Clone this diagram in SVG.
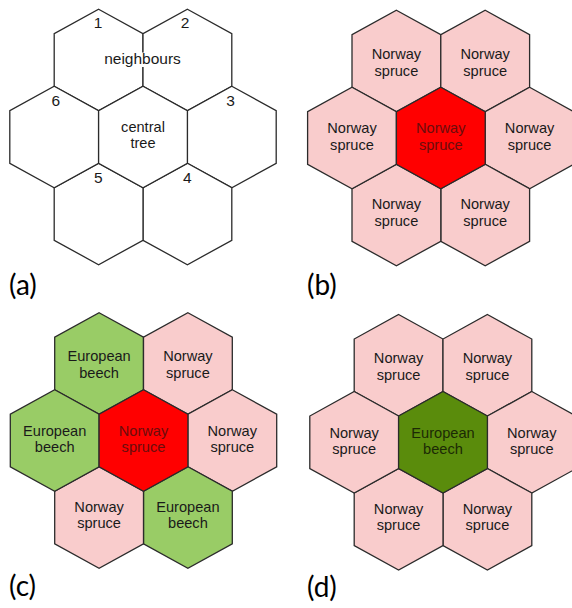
<svg xmlns="http://www.w3.org/2000/svg" xmlns:xlink="http://www.w3.org/1999/xlink" width="572" height="608" viewBox="0 0 572 608">
<style>
.h{stroke:#2b2b2b;stroke-width:1.3;stroke-linejoin:miter}
.w{fill:#ffffff}
.p{fill:#f9cccc}
.r{fill:#ff0000}
.g{fill:#99cc66}
.dg{fill:#5a8c0c}
text{font-family:"Liberation Sans",Arial,sans-serif;font-size:14.6px;fill:#1a1a1a;text-anchor:middle}
.num{font-size:15.5px}
.tr{fill:#6b0d0d}
.tg{fill:#1c2a05}
.lab{font-family:Lato,"Open Sans",sans-serif;font-size:28px;text-anchor:start;fill:#000}
</style>
<defs>
<polygon id="hex" points="0,-50.75 44.4,-26.25 44.4,26.25 0,50.75 -44.4,26.25 -44.4,-26.25"/>
</defs>

<g id="panel-a">
<g id="a-n1"><use xlink:href="#hex" class="h w" x="98.6" y="60"/><text class="num" x="98" y="28">1</text></g>
<g id="a-n2"><use xlink:href="#hex" class="h w" x="187.4" y="60"/><text class="num" x="185" y="28">2</text></g>
<g id="a-n3"><use xlink:href="#hex" class="h w" x="231.8" y="137"/><text class="num" x="230.5" y="106">3</text></g>
<g id="a-n4"><use xlink:href="#hex" class="h w" x="187.4" y="214"/><text class="num" x="187.3" y="183">4</text></g>
<g id="a-n5"><use xlink:href="#hex" class="h w" x="98.6" y="214"/><text class="num" x="98.3" y="183">5</text></g>
<g id="a-n6"><use xlink:href="#hex" class="h w" x="54.2" y="137"/><text class="num" x="55.7" y="106">6</text></g>
<g id="a-c"><use xlink:href="#hex" class="h w" x="143" y="137"/><text x="143" y="131.7">central<tspan x="143" dy="16.5">tree</tspan></text></g>
<g id="a-neighbours"><rect x="104" y="52.5" width="77" height="14.5" fill="#ffffff"/><text class="num" x="142.5" y="64">neighbours</text></g>
<text class="lab" x="9" y="295">(a)</text>
</g>

<g id="panel-b">
<g id="b-n1"><use xlink:href="#hex" class="h p" x="396.4" y="61"/><text x="396.4" y="59.4">Norway<tspan x="396.4" dy="16.3">spruce</tspan></text></g>
<g id="b-n2"><use xlink:href="#hex" class="h p" x="485.2" y="61"/><text x="485.2" y="59.4">Norway<tspan x="485.2" dy="16.3">spruce</tspan></text></g>
<g id="b-n3"><use xlink:href="#hex" class="h p" x="529.6" y="138"/><text x="529.6" y="133.4">Norway<tspan x="529.6" dy="16.3">spruce</tspan></text></g>
<g id="b-n4"><use xlink:href="#hex" class="h p" x="485.2" y="215"/><text x="485.2" y="209.4">Norway<tspan x="485.2" dy="16.3">spruce</tspan></text></g>
<g id="b-n5"><use xlink:href="#hex" class="h p" x="396.4" y="215"/><text x="396.4" y="209.4">Norway<tspan x="396.4" dy="16.3">spruce</tspan></text></g>
<g id="b-n6"><use xlink:href="#hex" class="h p" x="352" y="138"/><text x="352" y="133.4">Norway<tspan x="352" dy="16.3">spruce</tspan></text></g>
<g id="b-c"><use xlink:href="#hex" class="h r" x="440.8" y="138"/><text class="tr" x="440.8" y="133.4">Norway<tspan x="440.8" dy="16.3">spruce</tspan></text></g>
<text class="lab" x="307" y="295">(b)</text>
</g>

<g id="panel-c">
<g id="c-n1"><use xlink:href="#hex" class="h g" x="99.1" y="363.5"/><text x="99.1" y="361.4">European<tspan x="99.1" dy="16.3">beech</tspan></text></g>
<g id="c-n2"><use xlink:href="#hex" class="h p" x="187.9" y="363.5"/><text x="187.9" y="361.4">Norway<tspan x="187.9" dy="16.3">spruce</tspan></text></g>
<g id="c-n3"><use xlink:href="#hex" class="h p" x="232.3" y="440.5"/><text x="232.3" y="435.9">Norway<tspan x="232.3" dy="16.3">spruce</tspan></text></g>
<g id="c-n4"><use xlink:href="#hex" class="h g" x="187.9" y="517.5"/><text x="187.9" y="511.9">European<tspan x="187.9" dy="16.3">beech</tspan></text></g>
<g id="c-n5"><use xlink:href="#hex" class="h p" x="99.1" y="517.5"/><text x="99.1" y="511.9">Norway<tspan x="99.1" dy="16.3">spruce</tspan></text></g>
<g id="c-n6"><use xlink:href="#hex" class="h g" x="54.7" y="440.5"/><text x="54.7" y="435.9">European<tspan x="54.7" dy="16.3">beech</tspan></text></g>
<g id="c-c"><use xlink:href="#hex" class="h r" x="143.5" y="440.5"/><text class="tr" x="143.5" y="435.9">Norway<tspan x="143.5" dy="16.3">spruce</tspan></text></g>
<text class="lab" x="9" y="596">(c)</text>
</g>

<g id="panel-d">
<g id="d-n1"><use xlink:href="#hex" class="h p" x="398.6" y="365.3"/><text x="398.6" y="363.4">Norway<tspan x="398.6" dy="16.3">spruce</tspan></text></g>
<g id="d-n2"><use xlink:href="#hex" class="h p" x="487.4" y="365.3"/><text x="487.4" y="363.4">Norway<tspan x="487.4" dy="16.3">spruce</tspan></text></g>
<g id="d-n3"><use xlink:href="#hex" class="h p" x="531.8" y="442.3"/><text x="531.8" y="437.7">Norway<tspan x="531.8" dy="16.3">spruce</tspan></text></g>
<g id="d-n4"><use xlink:href="#hex" class="h p" x="487.4" y="519.3"/><text x="487.4" y="513.7">Norway<tspan x="487.4" dy="16.3">spruce</tspan></text></g>
<g id="d-n5"><use xlink:href="#hex" class="h p" x="398.6" y="519.3"/><text x="398.6" y="513.7">Norway<tspan x="398.6" dy="16.3">spruce</tspan></text></g>
<g id="d-n6"><use xlink:href="#hex" class="h p" x="354.2" y="442.3"/><text x="354.2" y="437.7">Norway<tspan x="354.2" dy="16.3">spruce</tspan></text></g>
<g id="d-c"><use xlink:href="#hex" class="h dg" x="443" y="442.3"/><text class="tg" x="443" y="437.7">European<tspan x="443" dy="16.3">beech</tspan></text></g>
<text class="lab" x="307" y="597">(d)</text>
</g>

<g id="connectors"></g>
</svg>
